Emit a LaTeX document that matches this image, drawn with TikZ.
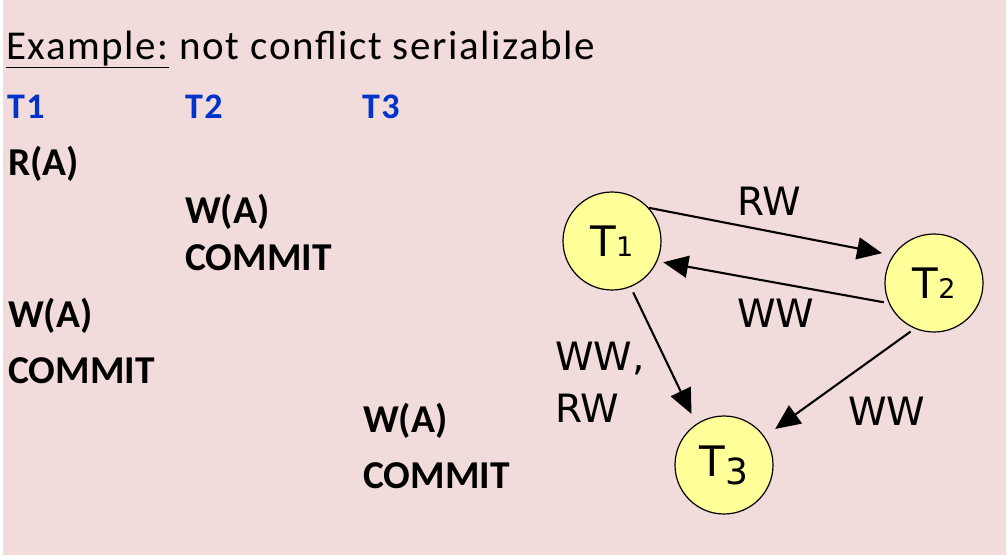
\documentclass[tikz,border=0pt]{standalone}
\usepackage{fontspec}
\setmainfont{Carlito}
\newfontfamily\graphfont{DejaVu Sans}
\newfontfamily\titlefont[LetterSpace=3.8]{Carlito}
\usetikzlibrary{arrows.meta}
\definecolor{bgpink}{HTML}{F2DCDB}
\definecolor{circyellow}{HTML}{FFFF99}
\definecolor{hdrblue}{HTML}{0033CC}
\begin{document}
\begin{tikzpicture}[x=1pt,y=-1pt,
  txt/.style={anchor=base west, inner sep=0pt, font=\fontsize{39.5}{40}\selectfont\bfseries},
  hdr/.style={anchor=base west, inner sep=0pt, text=hdrblue, font=\fontsize{36}{36}\selectfont\bfseries\addfontfeature{LetterSpace=4}},
  lbl/.style={anchor=base west, inner sep=0pt, font=\graphfont\fontsize{39}{44}\selectfont},
  tnode/.style={circle, draw=black, line width=1.2pt, fill=circyellow, minimum size=98pt, inner sep=0pt, font=\graphfont\fontsize{42}{42}\selectfont},
  edge/.style={line width=2.1pt, -{Triangle[length=25pt,width=22pt]}}
]
\useasboundingbox (0,0) rectangle (1006,558);
\fill[white] (0,0) rectangle (1006,558);
\fill[bgpink] (3,0) rectangle (1006,555);

\node[anchor=base west, inner sep=0pt, font=\titlefont\fontsize{41}{42}\selectfont] (title) at (6,59) {\underline{Example:} not conflict serializable};

\node[hdr] (h1) at (7,118) {T1};
\node[hdr] (h2) at (185,118) {T2};
\node[hdr] (h3) at (362,118) {T3};

\node[txt] (r1) at (8,175) {R(A)};
\node[txt] (w2) at (185,223) {W(A)};
\node[txt] (c2) at (185,270) {COMMIT};
\node[txt] (w1) at (8,327) {W(A)};
\node[txt] (c1) at (8,383) {COMMIT};
\node[txt] (w3) at (363,432) {W(A)};
\node[txt] (c3) at (363,488) {COMMIT};

\node[tnode] (t1) at (612,241) {T\fontsize{27}{27}\selectfont 1};
\node[tnode] (t2) at (934,283) {T\fontsize{27}{27}\selectfont 2};
\node[tnode] (t3) at (724,465) {T\raisebox{-8pt}{\fontsize{36}{36}\selectfont 3}};

\draw[edge, shorten >=11pt] (t1.42) -- (t2.146);
\draw[edge, shorten <=5pt, shorten >=6pt] (t2.204) -- (t1.336);
\draw[edge, shorten <=6pt, shorten >=11pt] (t1.292) -- (t3.124);
\draw[edge, shorten <=5pt, shorten >=13pt] (t2.247) -- (t3.35);

\node[lbl] (lrw) at (737,215) {RW};
\node[lbl] (lww) at (737,327) {WW};
\node[lbl] (l13a) at (555,370) {WW,};
\node[lbl] (l13b) at (555,422) {RW};
\node[lbl] (l23) at (848,425) {WW};
\end{tikzpicture}
\end{document}
